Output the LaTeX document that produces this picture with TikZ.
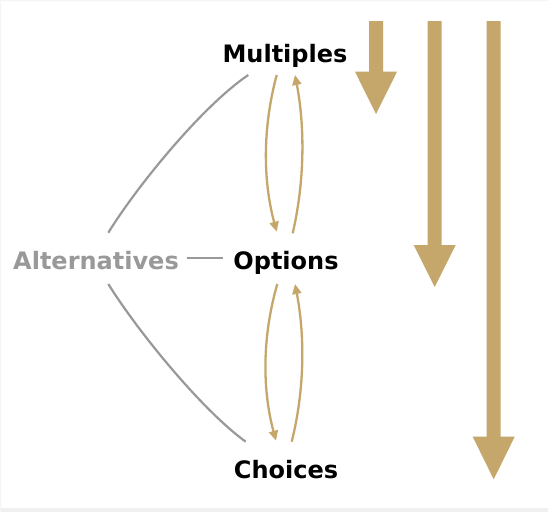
\documentclass[tikz,border=0pt]{standalone}
\usepackage{fontspec}
\setmainfont{DejaVu Sans}
\usetikzlibrary{calc,arrows.meta}
\begin{document}
\begin{tikzpicture}[x=1pt,y=-1pt,font=\fontsize{24}{28}\selectfont\bfseries]
\definecolor{cgold}{HTML}{C5A66B}\definecolor{cgrey}{HTML}{999999}
\tikzset{term/.style={anchor=base,inner sep=0pt,text=black},
 link/.style={draw=cgrey,line width=2.2pt},
 flow/.style={draw=cgold,line width=2.3pt,-{Triangle[length=10pt,width=9pt]}}}
\useasboundingbox (0,0) rectangle (548,512);
\fill[white] (0,0) rectangle (548,512);
\fill[black!6] (0,508) rectangle (548,512);
\fill[black!4] (0,0) rectangle (548,1) (0,0) rectangle (1,512);
\node[term] (mult) at (285,62) {Multiples};
\node[term] (opt) at (286,269) {Options};
\node[term] (cho) at (286,478) {Choices};
\node[term,text=cgrey] (alt) at (96,269) {Alternatives};
\draw[link] ($(alt.base)+(12.3,-36.3)$) .. controls +(29,-47) and +(-45.6,30.7) .. ($(mult.base)+(-36.7,13)$);
\draw[link] ($(alt.base)+(12.3,15)$) .. controls +(29,46.6) and +(-44.5,-32.3) .. ($(cho.base)+(-40.3,-36.3)$);
\draw[link] ($(alt.base)+(90.7,-10.7)$) -- ($(opt.base)+(-63.3,-10.7)$);
\draw[flow] ($(mult.base)+(-8.3,13)$) .. controls +(-14,52) and +(-14,-52) .. ($(opt.base)+(-9.3,-37.3)$);
\draw[flow] ($(opt.base)+(6.7,-35.7)$) .. controls +(12,-52) and +(10,52) .. ($(mult.base)+(10,13)$);
\draw[flow] ($(opt.base)+(-8.7,15)$) .. controls +(-15,52) and +(-14,-52) .. ($(cho.base)+(-10,-37.3)$);
\draw[flow] ($(cho.base)+(5.7,-36.3)$) .. controls +(13,-52) and +(10,52) .. ($(opt.base)+(9,15)$);
\foreach \cx/\hy/\ty in {376/71.7/114,434.7/245/287,493.7/436.7/479.3}
 \fill[cgold] (\cx-7,21) -- (\cx+7,21) -- (\cx+7,\hy) -- (\cx+21,\hy) -- (\cx,\ty) -- (\cx-21,\hy) -- (\cx-7,\hy) -- cycle;
\end{tikzpicture}
\end{document}
